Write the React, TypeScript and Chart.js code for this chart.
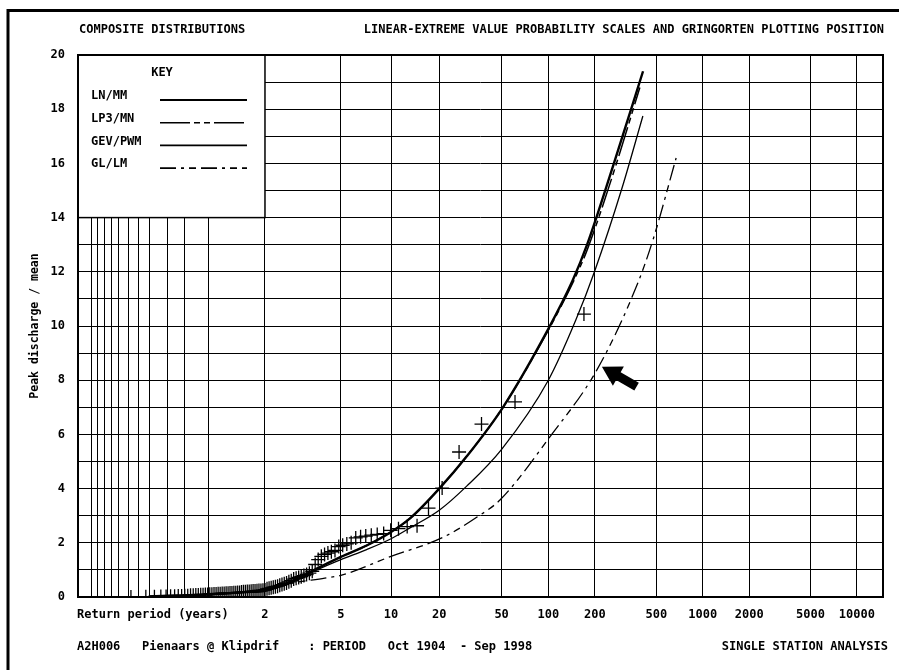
import React, { useEffect, useRef } from 'react';
import { Chart, registerables, Scale } from 'chart.js';

// ---------------- data ----------------
const TITLE_LEFT = 'COMPOSITE DISTRIBUTIONS';
const TITLE_RIGHT = 'LINEAR-EXTREME VALUE PROBABILITY SCALES AND GRINGORTEN PLOTTING POSITION';
const FOOTER_LEFT = 'A2H006   Pienaars @ Klipdrif    : PERIOD   Oct 1904  - Sep 1998';
const FOOTER_RIGHT = 'SINGLE STATION ANALYSIS';
const X_CAPTION = 'Return period (years)';
const Y_TITLE = 'Peak discharge / mean';
const KEY_TITLE = 'KEY';

// labelled return periods (years)
const returnPeriodLabels = [2, 5, 10, 20, 50, 100, 200, 500, 1000, 2000, 5000, 10000];
// non-exceedance probabilities of the unlabelled grid lines left of T = 2
const lowProbabilityGrid = [0.0001, 0.0002, 0.0005, 0.001, 0.002, 0.005, 0.01, 0.02, 0.05, 0.1, 0.2];

// fitted distributions: return period (years) -> peak discharge / mean
const lnmmT = [1.02, 1.13, 1.36, 1.68, 2, 2.64, 3.66, 5, 7.1, 10, 13.1, 20, 30, 51, 99, 144, 178, 262, 410];
const lnmmQ = [0.02, 0.07, 0.13, 0.18, 0.23, 0.55, 1.05, 1.48, 1.9, 2.4, 2.9, 4.0, 5.2, 7.0, 9.85, 11.7, 13.0, 15.9, 19.4];

const lp3T = [1.02, 1.13, 1.36, 1.68, 2, 2.64, 3.66, 5, 7.1, 10, 13.1, 20, 30, 51, 99, 144, 178, 262, 391];
const lp3Q = [0.03, 0.08, 0.14, 0.19, 0.24, 0.55, 1.05, 1.48, 1.9, 2.4, 2.9, 4.0, 5.2, 7.0, 9.8, 11.6, 12.8, 15.6, 18.8];

const gevT = [1.02, 1.13, 1.36, 1.68, 2, 2.64, 3.66, 5, 7.1, 10, 13.1, 20, 30, 50, 100, 150, 200, 300, 409];
const gevQ = [0.02, 0.07, 0.13, 0.18, 0.23, 0.52, 1.0, 1.38, 1.75, 2.15, 2.55, 3.2, 4.1, 5.45, 8.0, 10.2, 12.05, 15.1, 17.75];

const glT = [1.13, 1.36, 1.68, 2, 2.64, 4.05, 5, 10, 21.1, 34.8, 48.8, 102, 206, 374, 475, 672];
const glQ = [0.0, 0.1, 0.2, 0.3, 0.5, 0.7, 0.8, 1.5, 2.2, 2.95, 3.58, 5.9, 8.38, 11.5, 13.17, 16.2];

// observed annual peaks / mean, ranked from largest (Gringorten plotting position)
const observedQ = [
  10.44, 7.2, 6.38, 5.35, 4.02, 3.28, 2.63, 2.6, 2.52, 2.46,
  2.34, 2.31, 2.28, 2.25, 2.22, 2.18, 2.0, 1.96, 1.91, 1.86,
  1.72, 1.67, 1.62, 1.57, 1.5, 1.38, 1.2, 0.95, 0.88, 0.83,
  0.79, 0.75, 0.72, 0.69, 0.66, 0.6, 0.56, 0.52, 0.49, 0.46,
  0.43, 0.4, 0.38, 0.36, 0.34, 0.32, 0.3, 0.26, 0.25, 0.24,
  0.24, 0.23, 0.22, 0.22, 0.21, 0.2, 0.2, 0.19, 0.19, 0.18,
  0.17, 0.17, 0.16, 0.16, 0.15, 0.15, 0.14, 0.14, 0.13, 0.13,
  0.12, 0.12, 0.11, 0.11, 0.1, 0.1, 0.09, 0.09, 0.08, 0.08,
  0.07, 0.07, 0.06, 0.06, 0.05, 0.05, 0.04, 0.04, 0.03, 0.03,
  0.02, 0.02, 0.01, 0.01, 0.0,
];

const keyLabels = ['LN/MM', 'LP3/MN', 'GEV/PWM', 'GL/LM'];

// ---------------- Gumbel (extreme value) probability scale ----------------
const reducedVariate = (T: number) => -Math.log(-Math.log(1 - 1 / T));
const returnPeriodOf = (g: number) => 1 / (1 - Math.exp(-Math.exp(-g)));

class GumbelScale extends Scale {
  static id = 'gumbel';
  static defaults = {};
  _gStart = 0;
  _gRange = 1;
  determineDataLimits() {
    const o: any = this.options;
    this.min = returnPeriodOf(o.reducedMin);
    this.max = returnPeriodOf(o.reducedMax);
  }
  buildTicks() {
    const low = lowProbabilityGrid.map((p) => 1 / (1 - p));
    return [...low, ...returnPeriodLabels].map((v) => ({ value: v }));
  }
  getLabelForValue(v: number) {
    return String(v);
  }
  configure() {
    super.configure();
    const o: any = this.options;
    this._gStart = o.reducedMin;
    this._gRange = o.reducedMax - o.reducedMin;
  }
  getPixelForValue(v: number) {
    if (v === null || v === undefined || isNaN(v)) return NaN;
    return this.getPixelForDecimal((reducedVariate(v) - this._gStart) / this._gRange);
  }
  getPixelForTick(i: number) {
    const t = this.ticks;
    if (i < 0 || i > t.length - 1) return NaN;
    return this.getPixelForValue(t[i].value);
  }
  getValueForPixel(p: number) {
    return returnPeriodOf(this._gStart + this.getDecimalForPixel(p) * this._gRange);
  }
}

Chart.register(...registerables, GumbelScale as any);

const FONT = '"DejaVu Sans Mono", "Liberation Mono", monospace';

const toPoints = (T: number[], Q: number[]) => T.map((t, i) => ({ x: t, y: Q[i] }));
const n = observedQ.length;
const observedPoints = observedQ.map((q, i) => ({ x: (n + 0.12) / (i + 1 - 0.44), y: q }));

const decorPlugin = {
  id: 'decor',
  beforeDatasetsDraw(chart: any) {
    const { ctx, chartArea: a, scales } = chart;
    const kx = scales.x.getPixelForValue(2);
    const ky = scales.y.getPixelForValue(14);
    ctx.save();
    ctx.fillStyle = '#fff';
    ctx.fillRect(a.left, a.top, kx - a.left, ky - a.top);
    ctx.strokeStyle = '#000';
    ctx.lineWidth = 1.5;
    ctx.strokeRect(a.left, a.top, kx - a.left, ky - a.top);
    ctx.fillStyle = '#000';
    ctx.font = `bold 12px ${FONT}`;
    ctx.textBaseline = 'middle';
    ctx.textAlign = 'center';
    ctx.fillText(KEY_TITLE, a.left + 84, a.top + 18);
    ctx.textAlign = 'left';
    chart.data.datasets.forEach((ds: any, i: number) => {
      if (ds.showLine === false) return;
      const yy = a.top + 41 + i * 22.7;
      ctx.fillText(ds.label, a.left + 13, yy);
      ctx.save();
      ctx.lineWidth = ds.keyWidth;
      ctx.setLineDash(ds.borderDash || []);
      ctx.beginPath();
      ctx.moveTo(a.left + 82, yy + 4);
      ctx.lineTo(a.left + 169, yy + 4);
      ctx.stroke();
      ctx.restore();
    });
    ctx.restore();
  },
  afterDraw(chart: any) {
    const { ctx, chartArea: a, scales } = chart;
    ctx.save();
    // plot frame
    ctx.strokeStyle = '#000';
    ctx.lineWidth = 2;
    ctx.strokeRect(a.left, a.top, a.right - a.left, a.bottom - a.top);
    // outer page frame
    ctx.lineWidth = 3;
    ctx.beginPath();
    ctx.moveTo(8, 672);
    ctx.lineTo(8, 10.5);
    ctx.lineTo(900, 10.5);
    ctx.stroke();
    // texts
    ctx.fillStyle = '#000';
    ctx.font = `bold 12px ${FONT}`;
    ctx.textBaseline = 'middle';
    ctx.textAlign = 'left';
    ctx.fillText(TITLE_LEFT, 79, 30);
    ctx.textAlign = 'right';
    ctx.fillText(TITLE_RIGHT, 884, 30);
    ctx.textAlign = 'left';
    ctx.fillText(FOOTER_LEFT, 77, 647);
    ctx.textAlign = 'right';
    ctx.fillText(FOOTER_RIGHT, 888, 647);
    ctx.textAlign = 'left';
    ctx.fillText(X_CAPTION, 77, 615);
    // arrow pointing at the GL/LM curve
    const tx = scales.x.getPixelForValue(222);
    const ty = scales.y.getPixelForValue(8.5);
    const ux = 0.867, uy = 0.499; // direction tip -> tail
    const nx = -uy, ny = ux;
    const headL = 19, headW = 11, shaftW = 4.5, len = 40;
    const bx = tx + ux * headL, by = ty + uy * headL;
    const ex = tx + ux * len, ey = ty + uy * len;
    ctx.beginPath();
    ctx.moveTo(tx, ty);
    ctx.lineTo(bx + nx * headW, by + ny * headW);
    ctx.lineTo(bx + nx * shaftW, by + ny * shaftW);
    ctx.lineTo(ex + nx * shaftW, ey + ny * shaftW);
    ctx.lineTo(ex - nx * shaftW, ey - ny * shaftW);
    ctx.lineTo(bx - nx * shaftW, by - ny * shaftW);
    ctx.lineTo(bx - nx * headW, by - ny * headW);
    ctx.closePath();
    ctx.fill();
    ctx.restore();
  },
};

export default function App() {
  const ref = useRef<HTMLCanvasElement>(null);
  useEffect(() => {
    document.body.style.margin = '0';
    Chart.defaults.font.family = FONT;
    Chart.defaults.color = '#000';
    const lineBase = { pointRadius: 0, borderColor: '#000', fill: false, cubicInterpolationMode: 'monotone' as const };
    const chart = new Chart(ref.current as HTMLCanvasElement, {
      type: 'line',
      data: {
        datasets: [
          { ...lineBase, label: keyLabels[0], data: toPoints(lnmmT, lnmmQ), borderWidth: 2.4, keyWidth: 2 } as any,
          { ...lineBase, label: keyLabels[1], data: toPoints(lp3T, lp3Q), borderWidth: 1.5, borderDash: [30, 4, 6, 4, 6, 4], keyWidth: 1.6 } as any,
          { ...lineBase, label: keyLabels[2], data: toPoints(gevT, gevQ), borderWidth: 1.3, keyWidth: 1.6 } as any,
          { ...lineBase, label: keyLabels[3], data: toPoints(glT, glQ), borderWidth: 1.3, borderDash: [16, 5, 3, 5, 7, 5], keyWidth: 1.6 } as any,
          {
            label: 'Observed',
            data: observedPoints,
            showLine: false,
            pointStyle: 'cross',
            pointRadius: 7,
            pointBorderWidth: 1.3,
            borderColor: '#000',
            backgroundColor: '#000',
          } as any,
        ],
      },
      options: {
        responsive: false,
        animation: false,
        devicePixelRatio: 1,
        layout: { padding: { top: 55, right: 16, left: 0, bottom: 0 } },
        plugins: { legend: { display: false }, tooltip: { enabled: false } },
        scales: {
          x: {
            type: 'gumbel' as any,
            reducedMin: -2.427,
            reducedMax: 9.6,
            afterFit: (s: any) => { s.height = 73; },
            grid: { color: '#000', lineWidth: 1, drawTicks: false },
            border: { display: false },
            ticks: {
              autoSkip: false,
              maxRotation: 0,
              padding: 11,
              font: { size: 12, weight: 'bold' },
              callback: (v: any) => (returnPeriodLabels.includes(v) ? String(v) : ''),
            },
          } as any,
          y: {
            type: 'linear',
            min: 0,
            max: 20,
            afterFit: (s: any) => { s.width = 78; },
            grid: { color: '#000', lineWidth: 1, drawTicks: false },
            border: { display: false },
            title: { display: true, text: Y_TITLE, padding: { top: 28, bottom: 0 }, font: { size: 11.5, weight: 'bold' } },
            ticks: {
              stepSize: 1,
              padding: 13,
              font: { size: 12, weight: 'bold' },
              callback: (v: any) => (v % 2 === 0 ? String(v) : ''),
            },
          },
        },
      },
      plugins: [decorPlugin],
    } as any);
    return () => chart.destroy();
  }, []);
  return (
    <div style={{ width: 899, height: 670, background: '#fff' }}>
      <canvas ref={ref} width={899} height={670} style={{ display: 'block', width: 899, height: 670 }} />
    </div>
  );
}
